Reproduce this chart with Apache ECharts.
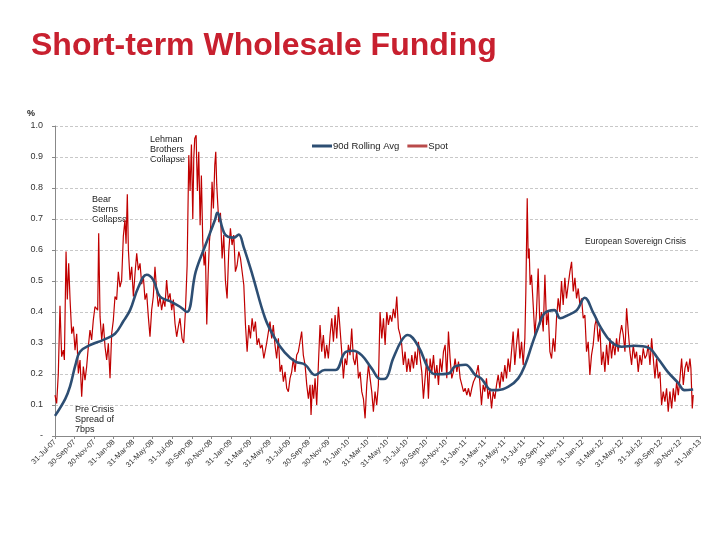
<!DOCTYPE html>
<html>
<head>
<meta charset="utf-8">
<script src="https://cdn.jsdelivr.net/npm/echarts@6/dist/echarts.min.js"></script>
<style>
html,body{margin:0;padding:0;background:#fff;}
#chart{width:720px;height:540px;}
</style>
</head>
<body>
<div id="chart"></div>
<script>
// X values are months elapsed since 31-Jul-07; Y values are spreads in %.
const tickLabels = ['31-Jul-07','30-Sep-07','30-Nov-07','31-Jan-08','31-Mar-08','31-May-08','31-Jul-08','30-Sep-08','30-Nov-08','31-Jan-09','31-Mar-09','31-May-09','31-Jul-09','30-Sep-09','30-Nov-09','31-Jan-10','31-Mar-10','31-May-10','31-Jul-10','30-Sep-10','30-Nov-10','31-Jan-11','31-Mar-11','31-May-11','31-Jul-11','30-Sep-11','30-Nov-11','31-Jan-12','31-Mar-12','31-May-12','31-Jul-12','30-Sep-12','30-Nov-12','31-Jan-13'];

const avgPoints = [[0,0.065],[1.05,0.12],[1.54,0.16],[2.1,0.23],[2.56,0.272],[3.58,0.293],[4.95,0.31],[6.14,0.33],[6.99,0.37],[7.68,0.406],[8.53,0.48],[9.38,0.52],[10.06,0.503],[10.74,0.45],[11.77,0.435],[12.79,0.417],[13.5,0.40],[14.4,0.53],[15.4,0.616],[16.4,0.70],[16.6,0.72],[17.4,0.65],[18.3,0.64],[18.8,0.65],[19.3,0.61],[20.2,0.52],[21.5,0.38],[22.5,0.315],[23.5,0.27],[24.6,0.24],[25.6,0.23],[26.6,0.197],[27.6,0.213],[28.7,0.213],[29.7,0.27],[30.5,0.275],[31.4,0.26],[32.4,0.218],[33.3,0.184],[33.8,0.185],[34.6,0.25],[35.5,0.31],[36.1,0.326],[37.2,0.288],[38.2,0.218],[38.9,0.199],[40.3,0.202],[40.9,0.224],[42.0,0.23],[43.0,0.197],[43.6,0.186],[44.7,0.148],[45.3,0.148],[46.4,0.159],[47.4,0.186],[48.1,0.229],[48.8,0.294],[49.4,0.347],[50.1,0.396],[51.1,0.406],[51.7,0.38],[52.5,0.39],[53.4,0.406],[54.2,0.446],[55.1,0.396],[55.9,0.347],[56.9,0.304],[58.0,0.288],[59.3,0.291],[60.7,0.285],[61.7,0.25],[62.7,0.207],[63.8,0.17],[64.4,0.148],[65.3,0.15]];

const spot2007 = [[0,0.132],[0.17,0.105],[0.34,0.202],[0.51,0.42],[0.68,0.256],[0.85,0.277],[0.96,0.245],[1.13,0.595],[1.26,0.44],[1.40,0.557],[1.54,0.44],[1.71,0.33],[1.88,0.353],[2.05,0.277],[2.22,0.33],[2.39,0.202],[2.56,0.245],[2.73,0.127],[2.90,0.224],[3.07,0.18],[3.24,0.224],[3.41,0.288],[3.58,0.342],[3.75,0.31],[3.92,0.374],[4.09,0.417],[4.26,0.417],[4.37,0.406],[4.47,0.654],[4.61,0.385],[4.78,0.31],[4.95,0.363],[5.12,0.288]];
const spot2008 = [[5.29,0.245],[5.46,0.299],[5.63,0.186],[5.80,0.33],[5.97,0.374],[6.14,0.45],[6.31,0.44],[6.48,0.53],[6.65,0.48],[6.82,0.503],[6.99,0.643],[7.16,0.697],[7.27,0.62],[7.40,0.78],[7.51,0.60],[7.68,0.503],[7.85,0.546],[8.02,0.45],[8.19,0.525],[8.36,0.589],[8.53,0.535],[8.70,0.557],[8.87,0.49],[9.04,0.514],[9.21,0.44],[9.38,0.46],[9.55,0.385],[9.72,0.32],[9.89,0.406],[10.06,0.45],[10.23,0.546],[10.4,0.47],[10.57,0.417],[10.74,0.45],[10.91,0.406],[11.08,0.44],[11.25,0.417],[11.42,0.503],[11.59,0.44],[11.77,0.46],[11.94,0.406],[12.11,0.44],[12.28,0.363],[12.45,0.32],[12.62,0.353],[12.79,0.38],[13.0,0.315],[13.17,0.30],[13.34,0.40],[13.52,0.55],[13.69,0.906],[13.82,0.79],[13.96,0.94],[14.1,0.70],[14.2,0.896],[14.3,0.96],[14.44,0.97],[14.57,0.79],[14.71,0.917],[14.85,0.68],[14.98,0.84],[15.12,0.627],[15.26,0.55],[15.39,0.595],[15.53,0.36],[15.67,0.52],[15.8,0.627],[15.94,0.68],[16.07,0.82],[16.21,0.734],[16.35,0.874],[16.45,0.917],[16.55,0.81],[16.66,0.745],[16.76,0.69],[16.93,0.72]];
const spot2009 = [[17.1,0.573],[17.27,0.648],[17.44,0.50],[17.61,0.444],[17.78,0.595],[17.95,0.67],[18.12,0.616],[18.29,0.648],[18.46,0.53],[18.63,0.55],[18.81,0.595],[18.98,0.573],[19.15,0.53],[19.32,0.487],[19.49,0.358],[19.66,0.272],[19.83,0.358],[20.0,0.315],[20.17,0.38],[20.34,0.337],[20.51,0.369],[20.68,0.294],[20.85,0.315],[21.02,0.283],[21.19,0.294],[21.37,0.25],[21.49,0.25],[21.66,0.30],[21.83,0.30],[22.0,0.369],[22.17,0.315],[22.34,0.358],[22.51,0.294],[22.68,0.25],[22.86,0.315],[23.03,0.207],[23.2,0.229],[23.37,0.175],[23.54,0.207],[23.71,0.154],[23.88,0.143],[24.05,0.186],[24.22,0.207],[24.39,0.25],[24.56,0.207],[24.73,0.261],[24.9,0.272],[25.07,0.304],[25.24,0.337],[25.41,0.261],[25.59,0.229],[25.76,0.165],[25.93,0.12],[26.1,0.165],[26.2,0.068],[26.34,0.165],[26.47,0.12],[26.61,0.186],[26.78,0.10],[26.95,0.229],[27.12,0.358],[27.29,0.272],[27.46,0.326],[27.63,0.25],[27.8,0.294],[27.97,0.25],[28.15,0.326],[28.32,0.38],[28.49,0.304]];
const spot2010 = [[28.66,0.39],[28.83,0.315],[29.0,0.417],[29.17,0.417],[29.34,0.272],[29.51,0.186],[29.68,0.25],[29.85,0.229],[30.02,0.294],[30.19,0.261],[30.36,0.347],[30.53,0.25],[30.7,0.229],[30.88,0.272],[31.05,0.186],[31.22,0.207],[31.39,0.143],[31.56,0.12],[31.73,0.057],[31.9,0.165],[32.07,0.229],[32.24,0.186],[32.41,0.143],[32.58,0.078],[32.75,0.143],[32.92,0.10],[33.09,0.165],[33.26,0.40],[33.44,0.315],[33.61,0.38],[33.78,0.294],[33.95,0.40],[34.12,0.358],[34.29,0.39],[34.46,0.369],[34.63,0.41],[34.8,0.38],[34.97,0.45],[35.14,0.347],[35.31,0.326],[35.48,0.294],[35.65,0.229],[35.82,0.272],[36.0,0.207],[36.17,0.25],[36.34,0.207],[36.51,0.261],[36.68,0.218],[36.85,0.272],[37.02,0.229],[37.19,0.304],[37.36,0.25],[37.53,0.207],[37.7,0.12],[37.87,0.186],[38.04,0.25],[38.21,0.12],[38.38,0.25],[38.56,0.207],[38.73,0.261],[38.9,0.186],[39.07,0.229],[39.24,0.165],[39.41,0.25],[39.58,0.207],[39.75,0.272],[39.92,0.294],[40.09,0.186],[40.26,0.337],[40.43,0.25]];
const spot2011 = [[40.6,0.186],[40.77,0.207],[40.94,0.25],[41.12,0.207],[41.29,0.24],[41.46,0.186],[41.63,0.165],[41.8,0.143],[41.97,0.154],[42.14,0.132],[42.31,0.154],[42.48,0.127],[42.65,0.154],[42.82,0.175],[42.99,0.186],[43.16,0.207],[43.3,0.229],[43.47,0.175],[43.64,0.10],[43.81,0.165],[43.98,0.143],[44.15,0.186],[44.32,0.12],[44.49,0.154],[44.67,0.089],[44.84,0.143],[45.01,0.12],[45.18,0.165],[45.35,0.197],[45.52,0.154],[45.69,0.207],[45.86,0.175],[46.03,0.229],[46.2,0.186],[46.37,0.25],[46.54,0.207],[46.71,0.272],[46.88,0.337],[47.05,0.229],[47.22,0.294],[47.4,0.347],[47.57,0.25],[47.74,0.304],[47.91,0.229],[48.08,0.315],[48.18,0.466],[48.32,0.767],[48.42,0.573],[48.52,0.605],[48.62,0.487],[48.76,0.52],[48.93,0.423],[49.1,0.326],[49.27,0.40],[49.44,0.54],[49.61,0.358],[49.78,0.40],[49.96,0.337],[50.13,0.52],[50.3,0.358],[50.47,0.40],[50.64,0.272],[50.81,0.25],[50.98,0.315],[51.15,0.272],[51.32,0.38],[51.49,0.444],[51.66,0.40],[51.83,0.50],[52.0,0.423],[52.17,0.51]];
const spot2012 = [[52.34,0.444],[52.51,0.487],[52.69,0.53],[52.86,0.562],[53.03,0.466],[53.2,0.51],[53.37,0.444],[53.54,0.476],[53.71,0.423],[53.88,0.444],[54.05,0.38],[54.22,0.39],[54.39,0.272],[54.56,0.304],[54.73,0.197],[54.9,0.261],[55.07,0.294],[55.25,0.358],[55.42,0.38],[55.59,0.304],[55.76,0.347],[55.93,0.229],[56.1,0.272],[56.27,0.207],[56.44,0.294],[56.61,0.229],[56.78,0.315],[56.95,0.25],[57.12,0.304],[57.29,0.261],[57.46,0.315],[57.63,0.272],[57.81,0.326],[57.98,0.358],[58.15,0.326],[58.32,0.272],[58.49,0.412],[58.66,0.337],[58.83,0.272],[59.0,0.229],[59.17,0.294],[59.34,0.25],[59.51,0.272],[59.68,0.207],[59.85,0.261],[60.02,0.229],[60.19,0.283],[60.37,0.25],[60.54,0.261],[60.71,0.294],[60.88,0.229],[61.05,0.315],[61.22,0.25],[61.39,0.186],[61.56,0.25],[61.73,0.186],[61.9,0.207],[62.07,0.10],[62.24,0.143],[62.41,0.111],[62.58,0.154],[62.75,0.078],[62.92,0.143],[63.1,0.089],[63.27,0.154],[63.44,0.111],[63.61,0.175],[63.78,0.132],[63.95,0.186],[64.12,0.25],[64.29,0.165],[64.46,0.218],[64.63,0.24],[64.8,0.207],[64.97,0.25],[65.07,0.218],[65.21,0.089],[65.31,0.132]];

const spotPoints = [].concat(spot2007, spot2008, spot2009, spot2010, spot2011, spot2012);

const FONT = 'Liberation Sans, Arial, sans-serif';
const chart = echarts.init(document.getElementById('chart'), null, {renderer: 'canvas'});
chart.setOption({
  animation: false,
  backgroundColor: '#ffffff',
  title: {
    text: 'Short-term Wholesale Funding',
    left: 26, top: 25,
    textStyle: {color: '#c8202f', fontSize: 32, fontWeight: 'bold', fontFamily: FONT}
  },
  legend: {
    left: 307, top: 136,
    itemWidth: 20, itemHeight: 3, itemGap: 8,
    icon: 'rect',
    textStyle: {fontSize: 9.5, color: '#222', fontFamily: FONT, padding: [0, 0, 0, -4]},
    data: ['90d Rolling Avg', 'Spot']
  },
  grid: {left: 55, right: 20, top: 126, bottom: 104, containLabel: false},
  xAxis: {
    type: 'value', min: 0, max: 66, interval: 2,
    axisLine: {show: true, lineStyle: {color: '#888', width: 1}},
    axisTick: {show: true, length: 3, lineStyle: {color: '#888'}},
    splitLine: {show: false},
    axisLabel: {
      rotate: 45, fontSize: 7.5, color: '#333', fontFamily: FONT, margin: 5,
      formatter: function (v) { const i = Math.round(v / 2); return tickLabels[i] || ''; }
    }
  },
  yAxis: {
    type: 'value', min: 0, max: 1.0, interval: 0.1,
    name: '%', nameLocation: 'end', nameGap: 8,
    nameTextStyle: {fontSize: 9, fontWeight: 'bold', color: '#222', fontFamily: FONT, align: 'right', padding: [0, 20, 0, 0]},
    axisLine: {show: true, lineStyle: {color: '#888', width: 1}},
    axisTick: {show: true, length: 3, lineStyle: {color: '#888'}},
    splitLine: {show: true, lineStyle: {color: '#c8c8c8', type: [3, 2], width: 1}},
    axisLabel: {
      fontSize: 9, color: '#333', fontFamily: FONT, margin: 12,
      formatter: function (v) { return v === 0 ? '-' : v.toFixed(1); }
    }
  },
  series: [
    {
      name: '90d Rolling Avg', type: 'line', data: avgPoints, z: 3,
      smooth: 0.4, showSymbol: false,
      lineStyle: {color: '#2d4e73', width: 2.6},
      itemStyle: {color: '#2d4e73'}
    },
    {
      name: 'Spot', type: 'line', data: spotPoints, z: 2,
      showSymbol: false,
      lineStyle: {color: '#c00000', width: 1.2},
      itemStyle: {color: '#b94a4a'}
    }
  ],
  graphic: [
    {type: 'text', left: 150, top: 135, style: {text: 'Lehman\nBrothers\nCollapse', fontSize: 9, lineHeight: 9.8, fill: '#222', fontFamily: FONT}},
    {type: 'text', left: 92, top: 195, style: {text: 'Bear\nSterns\nCollapse', fontSize: 9, lineHeight: 9.8, fill: '#222', fontFamily: FONT}},
    {type: 'text', left: 75, top: 405, style: {text: 'Pre Crisis\nSpread of\n7bps', fontSize: 9, lineHeight: 9.8, fill: '#222', fontFamily: FONT}},
    {type: 'text', left: 585, top: 237, style: {text: 'European Sovereign Crisis', fontSize: 8.5, fill: '#222', fontFamily: FONT}}
  ]
});
</script>
</body>
</html>
